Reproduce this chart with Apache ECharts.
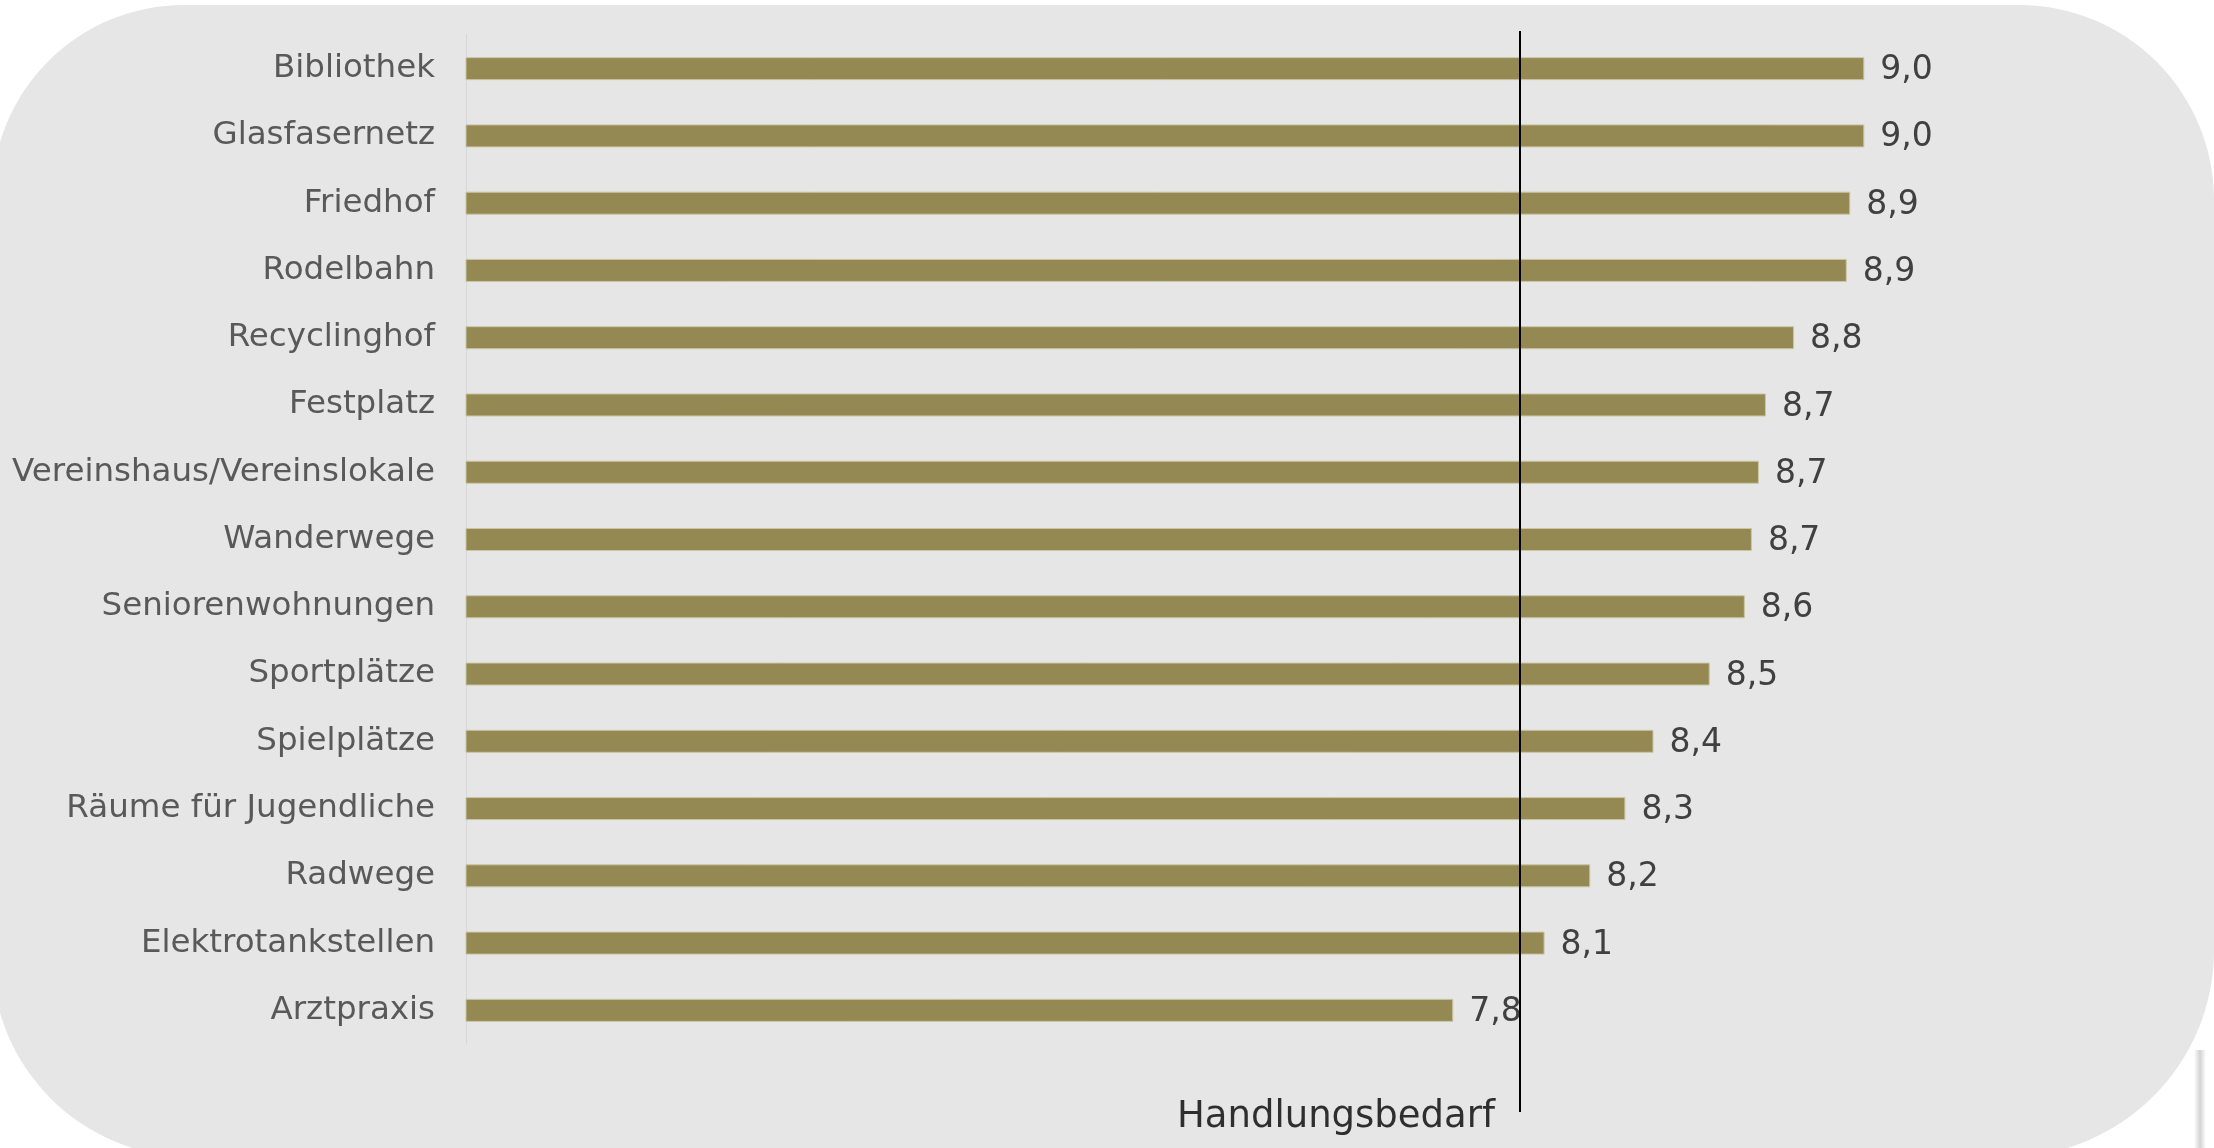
<!DOCTYPE html>
<html>
<head>
<meta charset="utf-8">
<title>Handlungsbedarf</title>
<script src="https://cdn.jsdelivr.net/npm/echarts@6/dist/echarts.min.js"></script>
<style>
  html, body { margin: 0; padding: 0; background: #ffffff; }
  #chart { width: 2214px; height: 1148px; }
</style>
</head>
<body>
<div id="chart"></div>
<script>
// Kategorien von oben nach unten
let categories = ['Bibliothek', 'Glasfasernetz', 'Friedhof', 'Rodelbahn', 'Recyclinghof', 'Festplatz',
  'Vereinshaus/Vereinslokale', 'Wanderwege', 'Seniorenwohnungen', 'Sportplätze', 'Spielplätze',
  'Räume für Jugendliche', 'Radwege', 'Elektrotankstellen', 'Arztpraxis']
// Mittelwerte (aus dem Bild geschätzt, Beschriftung auf eine Stelle gerundet)
let values = [8.98, 8.98, 8.94, 8.93, 8.78, 8.70, 8.68, 8.66, 8.64, 8.54, 8.38, 8.30, 8.20, 8.07, 7.81]
// Schwelle "Handlungsbedarf"
let thresholdValue = 8
let thresholdLabel = 'Handlungsbedarf'
let axisMin = 5
let axisMax = 9.5

let myChart = echarts.init(document.getElementById('chart'))

let option = {
  backgroundColor: '#ffffff',
  animation: false,
  //abgerundeter grauer Hintergrund
  graphic: [
    {
      type: 'rect',
      z: -10,
      silent: true,
      shape: { x: -8, y: 5, width: 2222, height: 1152, r: [192, 195, 207, 200] },
      style: { fill: '#e5e6e5' }
    },
    {
      type: 'rect',
      z: -9,
      silent: true,
      shape: { x: 2194, y: 1050, width: 12, height: 98 },
      style: {
        fill: new echarts.graphic.LinearGradient(0, 0, 1, 0, [
          { offset: 0, color: 'rgba(200,200,200,0)' },
          { offset: 0.5, color: 'rgba(200,200,200,0.8)' },
          { offset: 1, color: 'rgba(200,200,200,0)' }
        ])
      }
    }
  ],
  grid: [
    { left: 466, top: 35, height: 1009, right: 167 },
    //zweites Gitter nur für die Schwellenlinie (reicht weiter nach unten)
    { left: 466, top: 31, bottom: 36, right: 167 }
  ],
  xAxis: [
    { type: 'value', gridIndex: 0, min: axisMin, max: axisMax, show: false },
    { type: 'value', gridIndex: 1, min: axisMin, max: axisMax, show: false }
  ],
  yAxis: [
    {
      type: 'category',
      gridIndex: 0,
      inverse: true,
      data: categories,
      axisTick: { show: false },
      axisLine: { show: true, lineStyle: { color: '#d6d7d6', width: 1 } },
      axisLabel: {
        margin: 31,
        color: '#595959',
        fontFamily: 'DejaVu Sans',
        fontSize: 32.5,
        padding: [3, 0, 0, 0]
      },
      splitLine: { show: false }
    },
    { type: 'value', gridIndex: 1, min: 0, max: 1, show: false }
  ],
  series: [
    {
      name: 'Mittelwert',
      type: 'bar',
      xAxisIndex: 0,
      yAxisIndex: 0,
      data: values,
      barWidth: 23,
      itemStyle: {
        color: '#948953',
        borderColor: '#cbc5a3',
        borderWidth: 1
      },
      label: {
        show: true,
        position: 'right',
        distance: 16,
        offset: [0, 2],
        color: '#404040',
        fontFamily: 'DejaVu Sans',
        fontSize: 33,
        formatter: function (params) {
          return params.value.toFixed(1).replace('.', ',')
        }
      }
    },
    {
      //Schwellenlinie + Beschriftung unten links
      name: thresholdLabel,
      type: 'scatter',
      xAxisIndex: 1,
      yAxisIndex: 1,
      symbolSize: 0,
      data: [[thresholdValue, 0]],
      label: {
        show: true,
        position: 'left',
        distance: 25,
        offset: [0, 5],
        color: '#000000',
        fontFamily: 'DejaVu Sans',
        fontSize: 37,
        formatter: thresholdLabel
      },
      markLine: {
        silent: true,
        symbol: 'none',
        label: { show: false },
        lineStyle: { color: '#000000', width: 2, type: 'solid' },
        data: [{ xAxis: thresholdValue }]
      }
    }
  ]
}

myChart.setOption(option)
</script>
</body>
</html>
